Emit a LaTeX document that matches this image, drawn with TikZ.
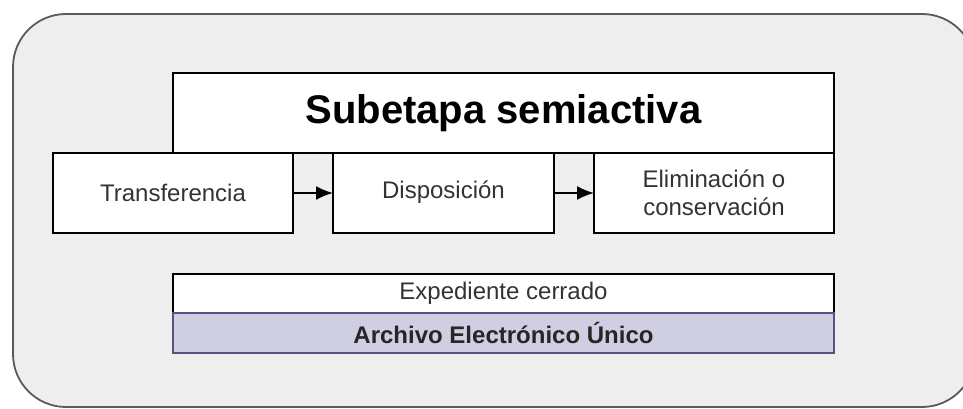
\documentclass[tikz,border=0pt]{standalone}
\usepackage{fontspec}
\setmainfont{Liberation Sans}
\usetikzlibrary{arrows.meta, positioning}
\definecolor{panelgray}{HTML}{EEEEEE}
\definecolor{panelline}{HTML}{5A5A5A}
\definecolor{labelgray}{HTML}{333333}
\definecolor{aeufill}{HTML}{D0CEE2}
\definecolor{aeuline}{HTML}{56517E}

\begin{document}
\begin{tikzpicture}[x=1pt, y=-1pt, node distance=40pt, line width=1.8pt, stage node/.style={rectangle, draw, fill=white, outer sep=0pt, minimum height=80pt, align=center, text=labelgray, font=\fontsize{24}{28}\selectfont}]% 1pt per pixel of the reference
\useasboundingbox (0,0) rectangle (963,409);
\draw[rounded corners=53pt, fill=panelgray, draw=panelline] (13,14) rectangle (975,407);
\node[stage node, minimum width=661pt, text=black, font=\bfseries\fontsize{40}{48}\selectfont](title) at (503.5,113) {Subetapa semiactiva};
\node[stage node, minimum width=240pt](transfer) at (173,193) {Transferencia};
\foreach \s/\t/\w/\l in {dispo/transfer/221/{\strut Disposición}, elim/dispo/240/{Eliminación o\\conservación}}{
    \node[stage node, minimum width=\w pt] (\s) [right=of \t] {\l};}
\foreach \s/\t in {transfer/dispo, dispo/elim}{
    \draw[-{Latex[length=17pt, width=14pt]}] (\s) -- (\t);}
\tikzset{node distance = 0pt}
\node[stage node, minimum width=661pt, minimum height=39pt](expediente) at (503.5,293.5) {Expediente cerrado};
\node[stage node, minimum width=661pt, minimum height=40pt, fill=aeufill, draw=aeuline, text=black!85, font=\bfseries\fontsize{24}{28}\selectfont](archivo) [below=of expediente] {Archivo Electrónico Único};
\end{tikzpicture}
\end{document}
